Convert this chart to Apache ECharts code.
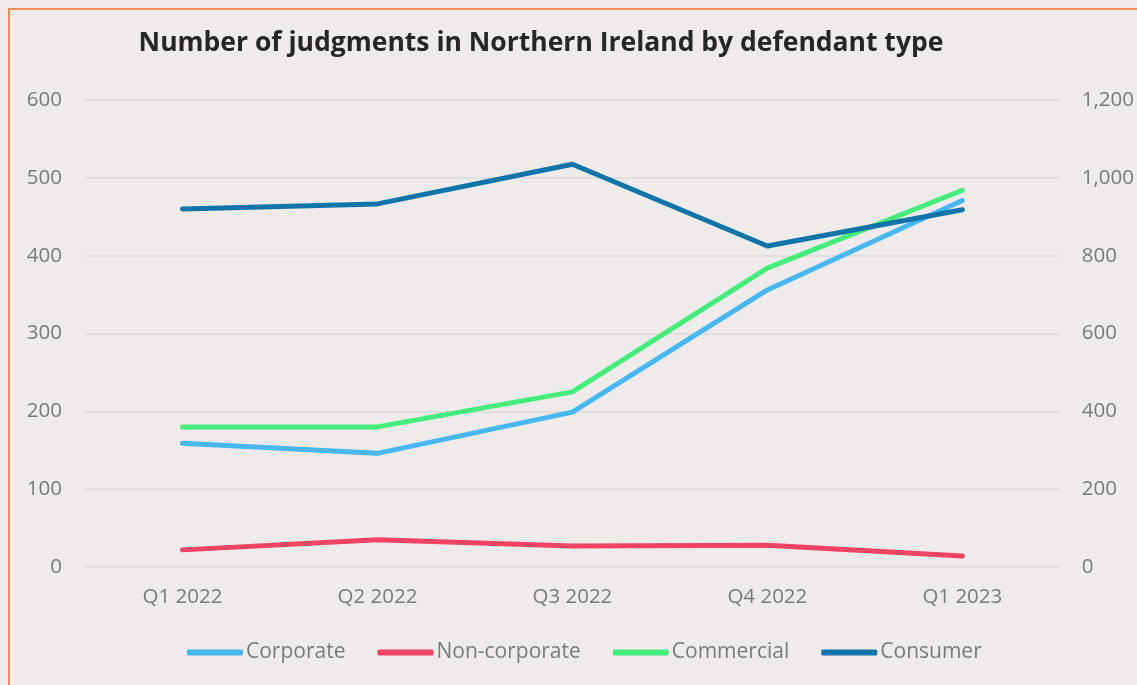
<!DOCTYPE html>
<html>
<head>
<meta charset="utf-8">
<script src="https://cdn.jsdelivr.net/npm/echarts@6/dist/echarts.min.js"></script>
<style>
  html, body { margin: 0; padding: 0; background: #eeebea; overflow: hidden; }
  #chart { width: 1137px; height: 685px; }
  #frame { position: absolute; left: 8px; top: 8px; width: 1300px; height: 900px;
           border: 2px solid #ef8a55; pointer-events: none; }
</style>
</head>
<body>
<div id="chart"></div>
<div id="frame"></div>
<script>
// quarters on the x axis
var quarters = ['Q1 2022', 'Q2 2022', 'Q3 2022', 'Q4 2022', 'Q1 2023']
// left axis series
var corporate = [159, 146, 199, 356, 471]
var nonCorporate = [22, 35, 27, 28, 14]
var commercial = [180, 180, 225, 384, 484]
// right axis series
var consumer = [920, 933, 1035, 825, 918]

var chart = echarts.init(document.getElementById('chart'))

function lineSeries(name, data, color, axis) {
  return {
    name: name,
    type: 'line',
    yAxisIndex: axis,
    data: data,
    symbol: 'none',
    color: color,
    lineStyle: { color: color, width: 5, cap: 'round', join: 'round' },
    animation: false
  }
}

var labelFont = { fontFamily: 'Open Sans', fontSize: 20.5, color: '#7a7a7a' }

chart.setOption({
  backgroundColor: '#eeebea',
  title: {
    text: 'Number of judgments in Northern Ireland by defendant type',
    left: 536,
    textAlign: 'center',
    top: 25,
    textStyle: { fontFamily: 'Open Sans', fontWeight: 'bold', fontSize: 26.5, color: '#262626' }
  },
  grid: { left: 85, right: 76, top: 100, bottom: 118 },
  legend: {
    bottom: 17,
    left: 182,
    icon: 'roundRect',
    itemWidth: 56,
    itemHeight: 6,
    itemGap: 32,
    textStyle: { fontFamily: 'Open Sans', fontSize: 21, color: '#7a7a7a', padding: [0, 0, 0, -2] },
    data: ['Corporate', 'Non-corporate', 'Commercial', 'Consumer']
  },
  xAxis: {
    type: 'category',
    data: quarters,
    boundaryGap: true,
    axisLine: { show: false },
    axisTick: { show: false },
    axisLabel: Object.assign({ margin: 20 }, labelFont)
  },
  yAxis: [
    {
      type: 'value',
      min: 0, max: 600, interval: 100,
      axisLine: { show: false },
      axisTick: { show: false },
      splitLine: { lineStyle: { color: '#dcdad8', width: 1.5 } },
      axisLabel: Object.assign({ margin: 23 }, labelFont)
    },
    {
      type: 'value',
      min: 0, max: 1200, interval: 200,
      axisLine: { show: false },
      axisTick: { show: false },
      splitLine: { show: false },
      axisLabel: Object.assign({
        margin: 22,
        formatter: function (v) { return v.toLocaleString('en-US') }
      }, labelFont)
    }
  ],
  series: [
    lineSeries('Corporate', corporate, '#48b6ef', 0),
    lineSeries('Non-corporate', nonCorporate, '#f04462', 0),
    lineSeries('Commercial', commercial, '#46ec7b', 0),
    lineSeries('Consumer', consumer, '#1074a8', 1)
  ]
})
</script>
</body>
</html>
